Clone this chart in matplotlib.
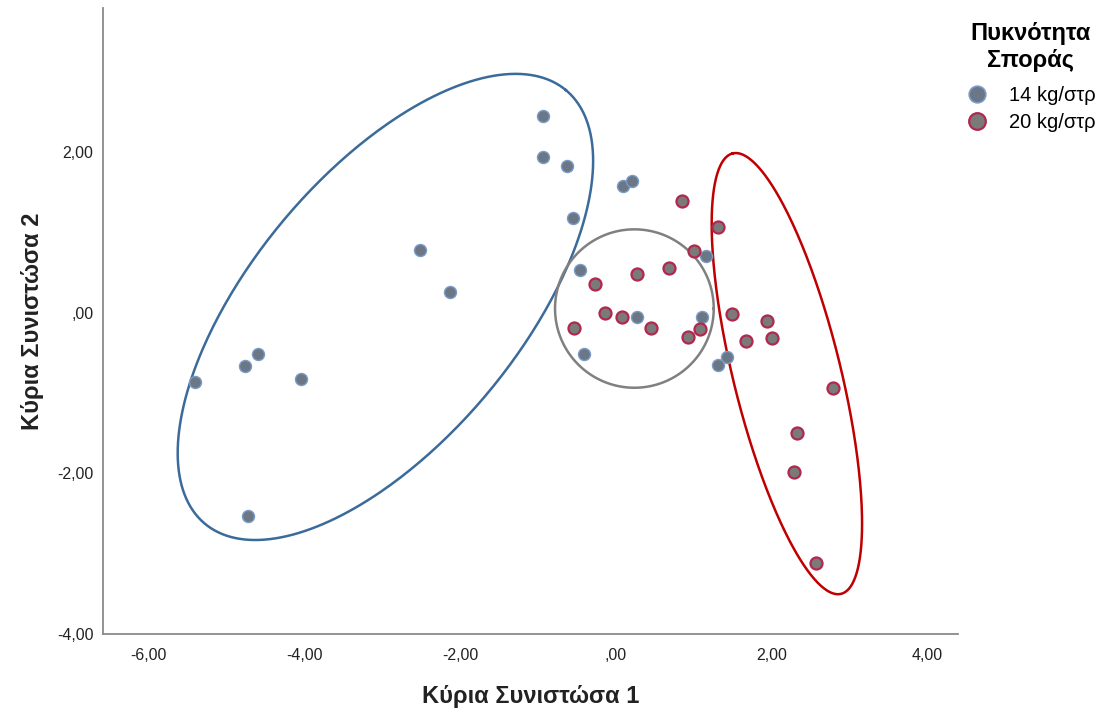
import numpy as np
import matplotlib
matplotlib.use("Agg")
import matplotlib.pyplot as plt
from matplotlib.lines import Line2D

plt.rcParams['font.family'] = ['Liberation Sans', 'DejaVu Sans']

# Component scores, 14 kg/στρ
x_14 = [-0.94, -0.94, -0.62, -0.55, 0.09, 0.21, -2.52, -2.13, -0.46, 0.27,
        -0.41, 1.16, 1.11, 1.43, 1.32, -5.41, -4.77, -4.60, -4.05, -4.73]
y_14 = [2.45, 1.93, 1.83, 1.18, 1.58, 1.64, 0.78, 0.25, 0.53, -0.05,
        -0.52, 0.70, -0.06, -0.55, -0.65, -0.86, -0.67, -0.52, -0.83, -2.53]

# Component scores, 20 kg/στρ
x_20 = [0.85, 1.31, 1.00, 0.27, 0.69, -0.26, -0.14, 0.08, -0.53, 0.46,
        0.93, 1.08, 1.49, 1.67, 1.95, 2.01, 2.79, 2.33, 2.29, 2.58]
y_20 = [1.39, 1.07, 0.76, 0.48, 0.55, 0.36, 0.00, -0.06, -0.19, -0.19,
        -0.31, -0.20, -0.02, -0.36, -0.11, -0.32, -0.94, -1.50, -1.99, -3.12]

ticks_x = [-6, -4, -2, 0, 2, 4]
ticks_y = [2, 0, -2, -4]

# groupings drawn by hand: center, semi-axes (x units), angle in degrees, colour
groups = [
    ((-2.96, 0.07), 3.63, 1.72, 50.3, '#3a6b9a'),
    ((0.24, 0.05), 1.02, 1.02, 0.0, '#808080'),
    ((2.20, -0.76), 2.92, 0.69, 103.8, '#c00000'),
]


def fmt(v):
    s = f"{v:.2f}".replace('.', ',')
    if s.startswith('0'):
        s = s[1:]
    return s


fig = plt.figure(figsize=(11.05, 7.17), dpi=100)
ax = fig.add_axes([0.0932, 0.1158, 0.7738, 0.873])
ax.set_xlim(-6.59, 4.40)
ax.set_ylim(-4.0, 3.79)

# y pixels per unit over x pixels per unit
k = 80.5 / 77.8
t = np.linspace(0, 2 * np.pi, 400)
for (cx, cy), a, b, ang, col in groups:
    th = np.radians(ang)
    u = a * np.cos(t) * np.cos(th) - b * np.sin(t) * np.sin(th)
    v = a * np.cos(t) * np.sin(th) + b * np.sin(t) * np.cos(th)
    ax.plot(cx + u, cy + v / k, color=col, lw=1.8, zorder=2)

ax.scatter(x_14, y_14, s=75, c='#6b7686', edgecolors='#7a9cc6', linewidths=1.0, zorder=3)
ax.scatter(x_20, y_20, s=75, c='#7a7a7a', edgecolors='#b0284e', linewidths=1.6, zorder=3)

ax.set_xticks(ticks_x)
ax.set_xticklabels([fmt(v) for v in ticks_x])
ax.set_yticks(ticks_y)
ax.set_yticklabels([fmt(v) for v in ticks_y])
ax.tick_params(length=0, labelsize=11.5, colors='#222222')
ax.tick_params(axis='x', pad=10)
ax.tick_params(axis='y', pad=7)

for s in ['top', 'right']:
    ax.spines[s].set_visible(False)
for s in ['left', 'bottom']:
    ax.spines[s].set_color('#8a8a8a')
    ax.spines[s].set_linewidth(1.3)

ax.set_xlabel('Κύρια Συνιστώσα 1', fontsize=17, fontweight='bold', color='#222222', labelpad=16)
ax.set_ylabel('Κύρια Συνιστώσα 2', fontsize=17, fontweight='bold', color='#222222', labelpad=9)

handles = [
    Line2D([], [], ls='none', marker='o', ms=12, mfc='#6b7686', mec='#7a9cc6', mew=1.2),
    Line2D([], [], ls='none', marker='o', ms=12, mfc='#7a7a7a', mec='#b0284e', mew=1.6),
]
leg = ax.legend(handles, ['14 kg/στρ', '20 kg/στρ'], title='Πυκνότητα\nΣποράς',
                loc='upper left', bbox_to_anchor=(0.873, 0.969), bbox_transform=fig.transFigure,
                frameon=False, fontsize=14.5, handletextpad=1.0, labelspacing=0.42,
                handlelength=1.2, borderpad=0, borderaxespad=0)
leg.get_title().set_fontsize(17)
leg.get_title().set_fontweight('bold')
leg.get_title().set_multialignment('center')
leg.get_title().set_linespacing(1.2)
leg._legend_box.sep = 10

fig.savefig('out.png', dpi=100)
